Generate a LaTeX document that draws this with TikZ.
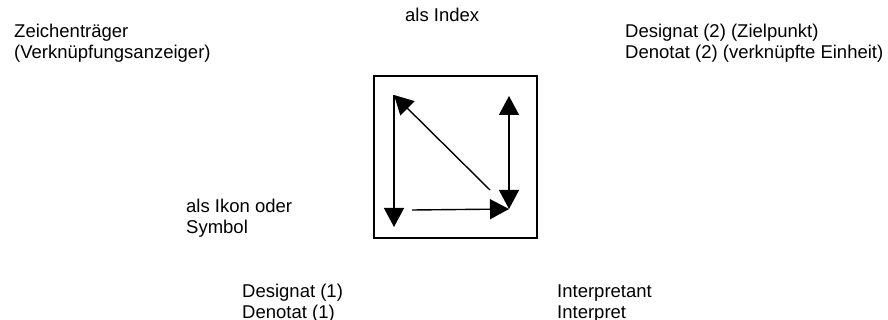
\documentclass[tikz,border=0pt]{standalone}
\usepackage{fontspec}
\setmainfont{Liberation Sans}
\usepackage{tikz}
\tikzset{
    sign/.style={anchor=base west, align=left, inner sep=0pt, font=\fontsize{18.5}{21}\selectfont},
    boxed/.style={draw, rectangle, line width=1.5pt, minimum width=163pt, minimum height=162pt, inner sep=0pt},
    rel/.style={-{Triangle[length=19pt,width=20pt]}, line width=1.4pt},
    mutual/.style={{Triangle[length=19pt,width=20pt]}-{Triangle[length=19pt,width=20pt]}, line width=1.4pt} }
\usetikzlibrary{arrows.meta}

\begin{document}
\begin{tikzpicture}[x=1pt, y=-1pt]
	\useasboundingbox (0,0) rectangle (888,320);
	\node[sign] (traeger) at (14,59) {Zeichenträger\\(Verknüpfungsanzeiger)};
	\node[sign] (index) at (405,22) {als Index};
	\node[sign] (designatB) at (625,59) {Designat (2) (Zielpunkt)\\Denotat (2) (verknüpfte Einheit)};
	\node[sign] (ikon) at (186,234) {als Ikon oder\\Symbol};
	\node[sign] (designatA) at (242,318) {Designat (1)\\Denotat (1)};
	\node[sign] (interpretant) at (557,318) {Interpretant\\Interpret};
	% ----
	\node[boxed] (frame) at (455.5,157) {};
	\coordinate (tl) at (394,95);
	\coordinate (bl) at (394,227);
	\coordinate (tr) at (509,96);
	\coordinate (br) at (509,209);
	\coordinate (hstart) at (412,210);
	\coordinate (dstart) at (490,190);
	% ----
	\draw[rel] (tl) -- (bl);
	\draw[rel] (dstart) -- (tl);
	\draw[rel] (hstart) -- (br);
	\draw[mutual] (tr) -- (br);
\end{tikzpicture}
\end{document}
